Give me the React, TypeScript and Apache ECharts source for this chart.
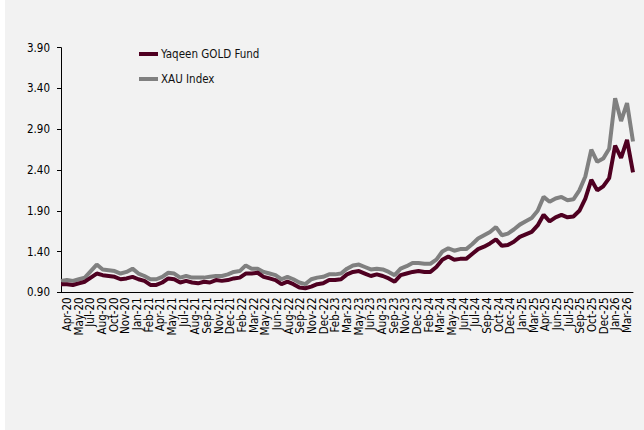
import React, { useEffect, useRef } from "react";
import * as echarts from "echarts";

const monthLabels = ["Apr-20","May-20","Jul-20","Aug-20","Oct-20","Nov-20","Jan-21","Feb-21","Apr-21","May-21","Jul-21","Aug-21","Sep-21","Nov-21","Dec-21","Feb-22","Mar-22","May-22","Jun-22","Aug-22","Sep-22","Nov-22","Dec-22","Feb-23","Mar-23","May-23","Jun-23","Aug-23","Sep-23","Nov-23","Dec-23","Feb-24","Mar-24","May-24","Jun-24","Jul-24","Sep-24","Oct-24","Dec-24","Jan-25","Mar-25","Apr-25","Jun-25","Jul-25","Sep-25","Oct-25","Dec-25","Jan-26","Mar-26"];

const fundValues = [1.00,1.00,0.99,1.01,1.03,1.08,1.13,1.11,1.10,1.09, 1.06,1.07,1.09,1.06,1.04,0.99,0.99,1.02,1.07,1.06, 1.02,1.04,1.02,1.01,1.03,1.02,1.05,1.04,1.05,1.07, 1.08,1.13,1.13,1.14,1.09,1.07,1.05,1.00,1.03,1.00, 0.96,0.95,0.97,1.00,1.01,1.05,1.05,1.06,1.12,1.15, 1.16,1.13,1.10,1.12,1.10,1.07,1.03,1.11,1.13,1.15, 1.16,1.15,1.15,1.21,1.30,1.34,1.30,1.31,1.31,1.37, 1.43,1.46,1.50,1.55,1.47,1.48,1.52,1.58,1.61,1.64, 1.72,1.85,1.77,1.82,1.85,1.82,1.83,1.90,2.05,2.28, 2.15,2.20,2.30,2.70,2.55,2.77,2.37];

const xauValues = [1.04,1.05,1.04,1.06,1.08,1.16,1.24,1.18,1.17,1.16, 1.13,1.15,1.19,1.13,1.10,1.06,1.06,1.09,1.14,1.13, 1.08,1.10,1.08,1.08,1.08,1.09,1.10,1.10,1.12,1.15, 1.16,1.23,1.19,1.19,1.15,1.13,1.11,1.06,1.09,1.06, 1.02,1.00,1.06,1.08,1.09,1.12,1.12,1.13,1.19,1.23, 1.24,1.21,1.18,1.19,1.18,1.15,1.11,1.19,1.22,1.26, 1.26,1.25,1.25,1.30,1.40,1.44,1.41,1.43,1.43,1.49, 1.56,1.60,1.64,1.70,1.60,1.62,1.67,1.73,1.77,1.81, 1.90,2.07,2.01,2.05,2.07,2.03,2.04,2.15,2.32,2.65, 2.50,2.54,2.66,3.28,3.00,3.22,2.75];

const yTicks = [0.9, 1.4, 1.9, 2.4, 2.9, 3.4, 3.9];

const FONT = "Tahoma, 'DejaVu Sans Condensed', 'DejaVu Sans', sans-serif";

export default function App() {
  const ref = useRef<HTMLDivElement>(null);
  useEffect(() => {
    if (!ref.current) return;
    const chart = echarts.init(ref.current, null, { renderer: "svg" });
    const sampleIdx = fundValues.map((_, i) => String(i));
    chart.setOption({
      animation: false,
      backgroundColor: "#f2f2f2",
      textStyle: { fontFamily: FONT },
      legend: {
        orient: "vertical",
        left: 134,
        top: 45,
        padding: [3, 0, 0, 0],
        itemWidth: 19,
        itemHeight: 4,
        itemGap: 13,
        icon: "rect",
        textStyle: { fontFamily: FONT, fontSize: 11.5, color: "#111", padding: [0, 0, 0, -2] },
        data: ["Yaqeen GOLD Fund", "XAU Index"],
      },
      grid: { left: 56, right: 11, top: 47.7, bottom: 137.7, containLabel: false },
      xAxis: [
        {
          type: "category",
          data: monthLabels,
          boundaryGap: true,
          axisLine: { lineStyle: { color: "#000", width: 1 } },
          axisTick: { alignWithLabel: true, length: 4, lineStyle: { color: "#000" } },
          axisLabel: { interval: 0, rotate: 90, fontSize: 11.5, color: "#000", margin: 5, fontFamily: FONT },
          splitLine: { show: false },
        },
        {
          type: "category",
          data: sampleIdx,
          boundaryGap: false,
          show: false,
        },
      ],
      yAxis: {
        type: "value",
        min: 0.9,
        max: 3.9,
        axisLine: { show: true, lineStyle: { color: "#000", width: 1 } },
        axisTick: { show: true, length: 4, customValues: yTicks, lineStyle: { color: "#000" } },
        axisLabel: {
          customValues: yTicks,
          formatter: (v: number) => v.toFixed(2),
          fontSize: 11.5,
          color: "#000",
          margin: 11,
          fontFamily: FONT,
        },
        splitLine: { show: false },
      },
      series: [
        {
          name: "Yaqeen GOLD Fund",
          type: "line",
          xAxisIndex: 1,
          data: fundValues,
          showSymbol: false,
          symbol: "none",
          z: 3,
          itemStyle: { color: "#4f0021" },
          lineStyle: { color: "#4f0021", width: 4 },
        },
        {
          name: "XAU Index",
          type: "line",
          xAxisIndex: 1,
          data: xauValues,
          showSymbol: false,
          symbol: "none",
          z: 2,
          itemStyle: { color: "#808080" },
          lineStyle: { color: "#808080", width: 4 },
        },
      ],
    });
    return () => chart.dispose();
  }, []);
  return (
    <div style={{ position: "absolute", left: 0, top: 0, width: 644, height: 430, background: "#fff" }}>
      <div ref={ref} style={{ position: "absolute", left: 5, top: 0, width: 639, height: 430 }} />
    </div>
  );
}
